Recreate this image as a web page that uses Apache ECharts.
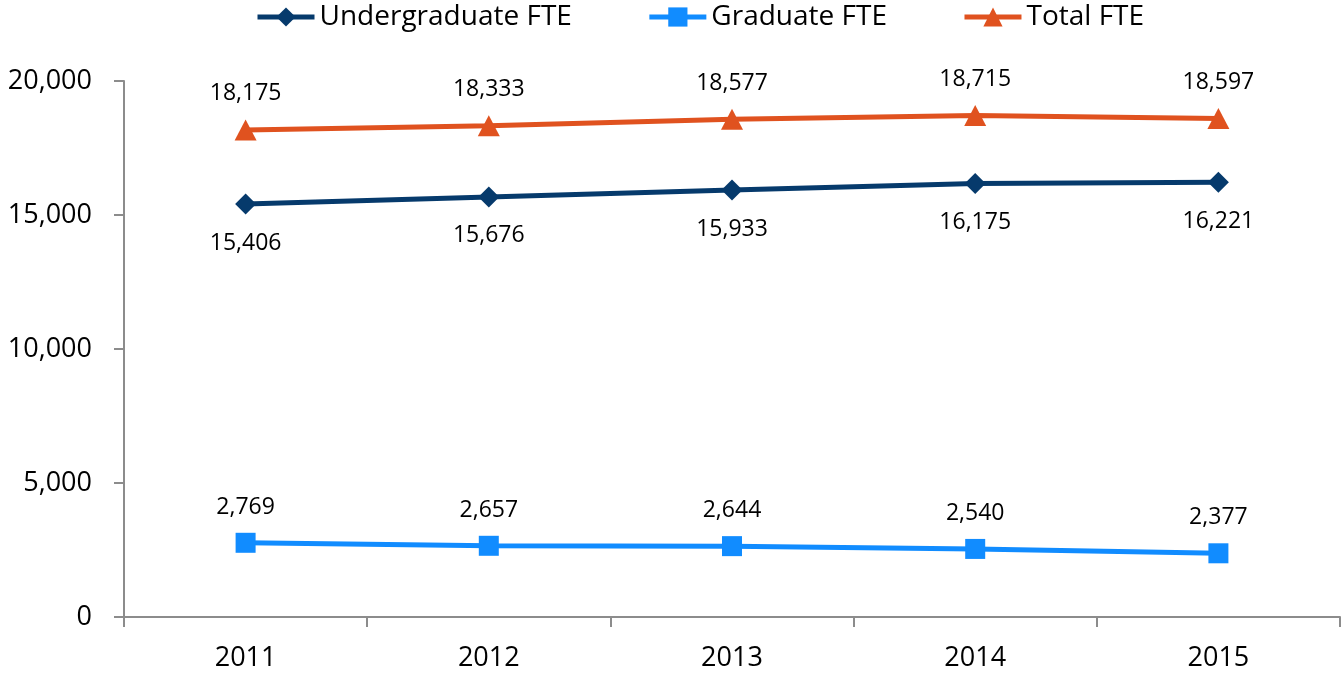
<!DOCTYPE html>
<html>
<head>
<meta charset="utf-8">
<title>FTE Enrollment 2011–2015</title>
<script src="https://cdn.jsdelivr.net/npm/echarts@6/dist/echarts.min.js"></script>
<style>
  html, body { margin: 0; padding: 0; background: #ffffff; }
  #chart { width: 1341px; height: 675px; }
</style>
</head>
<body>
<div id="chart"></div>
<script>
// Fall years
const years = ['2011', '2012', '2013', '2014', '2015'];

// Full-time-equivalent enrollment by level
const undergraduateFTE = [15406, 15676, 15933, 16175, 16221];
const graduateFTE = [2769, 2657, 2644, 2540, 2377];
const totalFTE = [18175, 18333, 18577, 18715, 18597];

// Value axis ticks
const yTicks = [0, 5000, 10000, 15000, 20000];

const FONT = '"Open Sans", "Noto Sans", sans-serif';
const AXIS_GREY = '#8c8c8c';
const fmt = v => v.toLocaleString('en-US');

function lineSeries(name, data, color, symbol, labelPos) {
  return {
    name: name,
    type: 'line',
    data: data,
    symbol: symbol,
    symbolSize: symbol === 'diamond' ? [21, 21] : (symbol === 'triangle' ? [22, 21] : [20, 20]),
    lineStyle: { color: color, width: 5 },
    itemStyle: { color: color },
    label: {
      show: true,
      position: labelPos,
      distance: labelPos === 'bottom' ? 17 : 14,
      fontFamily: FONT,
      fontSize: 23,
      color: '#000000',
      formatter: p => fmt(p.value)
    },
    emphasis: { disabled: true },
    z: 3
  };
}

const chart = echarts.init(document.getElementById('chart'), null, { renderer: 'canvas' });

chart.setOption({
  animation: false,
  backgroundColor: '#ffffff',
  legend: {
    top: 3,
    left: 255,
    padding: 0,
    itemWidth: 57,
    itemHeight: 24,
    itemGap: 75,
    lineStyle: { width: 5 },
    textStyle: { fontFamily: FONT, fontSize: 28, color: '#000000' },
    data: ['Undergraduate FTE', 'Graduate FTE', 'Total FTE']
  },
  grid: { left: 124, right: 1, top: 81, bottom: 58, containLabel: false },
  xAxis: {
    type: 'category',
    data: years,
    boundaryGap: true,
    axisLine: { show: true, lineStyle: { color: AXIS_GREY, width: 2 } },
    axisTick: { show: true, length: 10, alignWithLabel: false, lineStyle: { color: AXIS_GREY, width: 2 } },
    axisLabel: { fontFamily: FONT, fontSize: 27, color: '#000000', margin: 28 },
    splitLine: { show: false }
  },
  yAxis: {
    type: 'value',
    min: yTicks[0],
    max: yTicks[yTicks.length - 1],
    interval: yTicks[1] - yTicks[0],
    axisLine: { show: true, lineStyle: { color: AXIS_GREY, width: 2 } },
    axisTick: { show: true, length: 10, lineStyle: { color: AXIS_GREY, width: 2 } },
    axisLabel: {
      fontFamily: FONT, fontSize: 27, color: '#000000', margin: 32,
      formatter: v => fmt(v)
    },
    splitLine: { show: false }
  },
  series: [
    lineSeries('Undergraduate FTE', undergraduateFTE, '#063a6c', 'diamond', 'bottom'),
    lineSeries('Graduate FTE', graduateFTE, '#118cff', 'rect', 'top'),
    lineSeries('Total FTE', totalFTE, '#e0521f', 'triangle', 'top')
  ]
});
</script>
</body>
</html>
